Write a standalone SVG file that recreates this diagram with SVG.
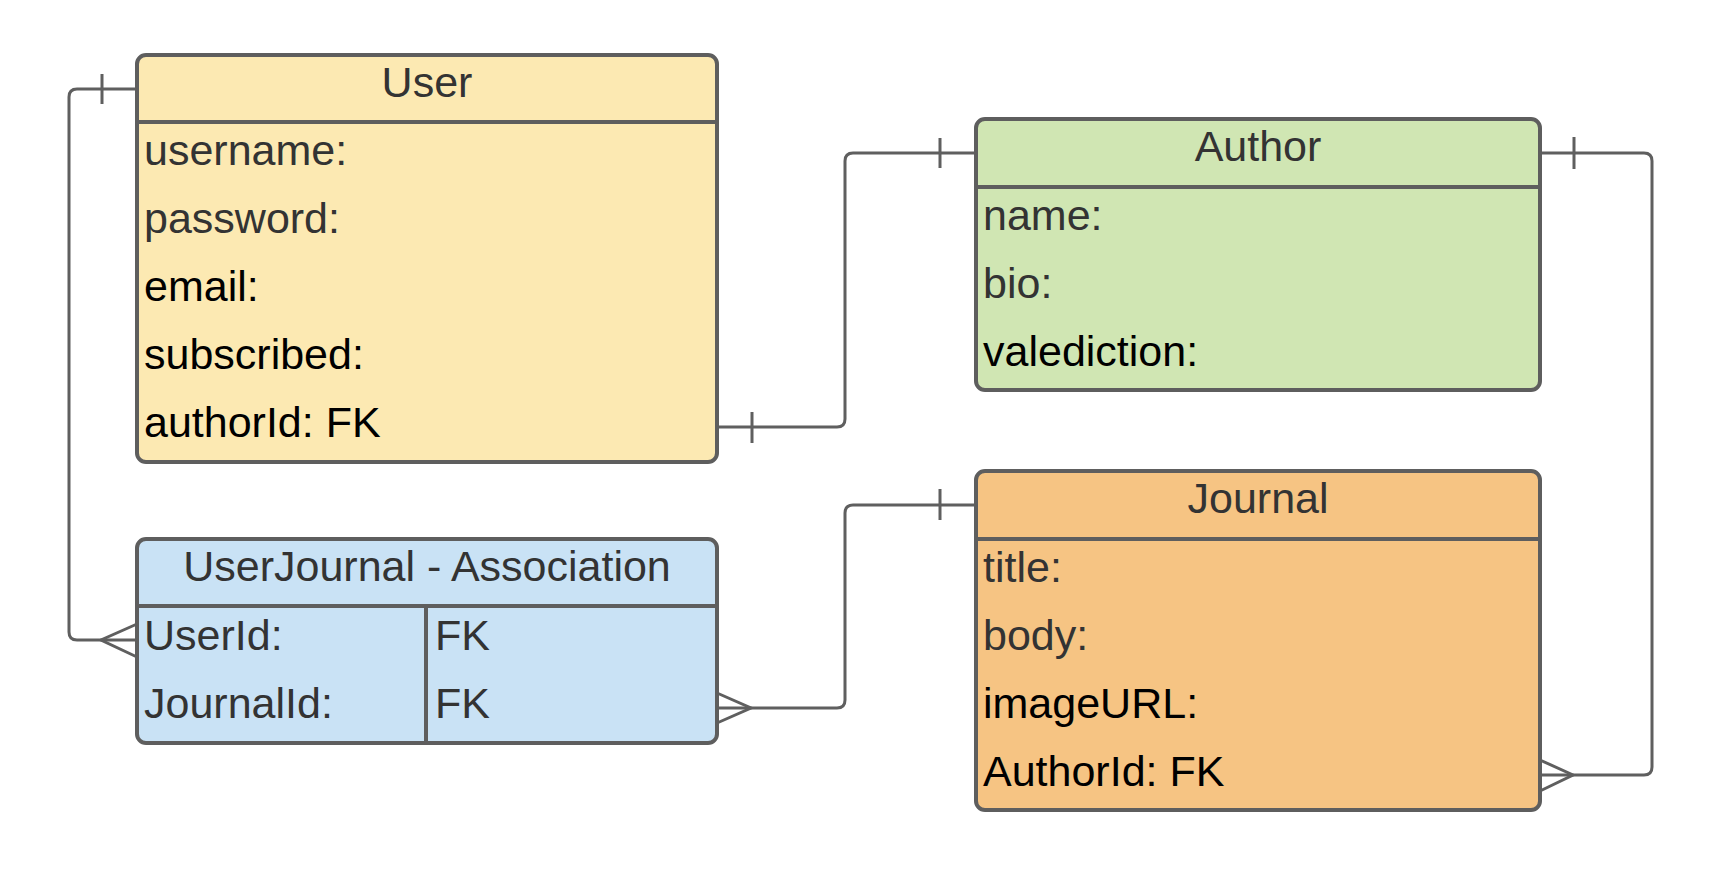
<svg xmlns="http://www.w3.org/2000/svg" width="1720" height="872" viewBox="0 0 1720 872">
<style>
.box{stroke:#5e5e5e;stroke-width:4}
.sep{stroke:#5e5e5e;stroke-width:4;fill:none}
.t{font-family:"Liberation Sans",Arial,sans-serif;font-size:43px}
.h{text-anchor:middle;fill:#333333}
.g{fill:#333333}
.k{fill:#000000}
.c{fill:none;stroke:#5f5f5f;stroke-width:3}
</style>
<rect width="1720" height="872" fill="#ffffff"/>
<g id="connectors">
  <path class="c" d="M137,89 H77 Q69,89 69,97 V632 Q69,640 77,640 H137"/>
  <path class="c" d="M102,74 V104"/>
  <path class="c" d="M137,624 L101,640 L137,657"/>
  <path class="c" d="M717,427 H837 Q845,427 845,419 V161 Q845,153 853,153 H976"/>
  <path class="c" d="M752,412 V443"/>
  <path class="c" d="M940,138 V168"/>
  <path class="c" d="M717,708 H837 Q845,708 845,700 V513 Q845,505 853,505 H976"/>
  <path class="c" d="M717,693 L751,708 L717,723"/>
  <path class="c" d="M940,489 V520"/>
  <path class="c" d="M1540,775 H1644 Q1652,775 1652,767 V161 Q1652,153 1644,153 H1540"/>
  <path class="c" d="M1540,760 L1573,775 L1540,791"/>
  <path class="c" d="M1574,137 V169"/>
</g>
<g id="user">
  <rect class="box" x="137" y="55" width="580" height="407" rx="9" fill="#fce9b2"/>
  <line class="sep" x1="137" y1="122" x2="717" y2="122"/>
  <text class="t h" x="427" y="97">User</text>
  <text class="t g" x="144" y="165">username:</text>
  <text class="t g" x="144" y="233">password:</text>
  <text class="t k" x="144" y="301">email:</text>
  <text class="t k" x="144" y="369">subscribed:</text>
  <text class="t k" x="144" y="437">authorId: FK</text>
</g>
<g id="author">
  <rect class="box" x="976" y="119" width="564" height="271" rx="9" fill="#d0e6b3"/>
  <line class="sep" x1="976" y1="187" x2="1540" y2="187"/>
  <text class="t h" x="1258" y="161">Author</text>
  <text class="t g" x="983" y="230">name:</text>
  <text class="t g" x="983" y="298">bio:</text>
  <text class="t k" x="983" y="366">valediction:</text>
</g>
<g id="userjournal">
  <rect class="box" x="137" y="539" width="580" height="204" rx="9" fill="#c9e2f5"/>
  <line class="sep" x1="137" y1="606" x2="717" y2="606"/>
  <line class="sep" x1="426" y1="606" x2="426" y2="743"/>
  <text class="t h" x="427" y="581">UserJournal - Association</text>
  <text class="t g" x="144" y="650">UserId:</text>
  <text class="t g" x="144" y="718">JournalId:</text>
  <text class="t g" x="435" y="650">FK</text>
  <text class="t g" x="435" y="718">FK</text>
</g>
<g id="journal">
  <rect class="box" x="976" y="471" width="564" height="339" rx="9" fill="#f6c483"/>
  <line class="sep" x1="976" y1="539" x2="1540" y2="539"/>
  <text class="t h" x="1258" y="513">Journal</text>
  <text class="t g" x="983" y="582">title:</text>
  <text class="t g" x="983" y="650">body:</text>
  <text class="t k" x="983" y="718">imageURL:</text>
  <text class="t k" x="983" y="786">AuthorId: FK</text>
</g>
</svg>
